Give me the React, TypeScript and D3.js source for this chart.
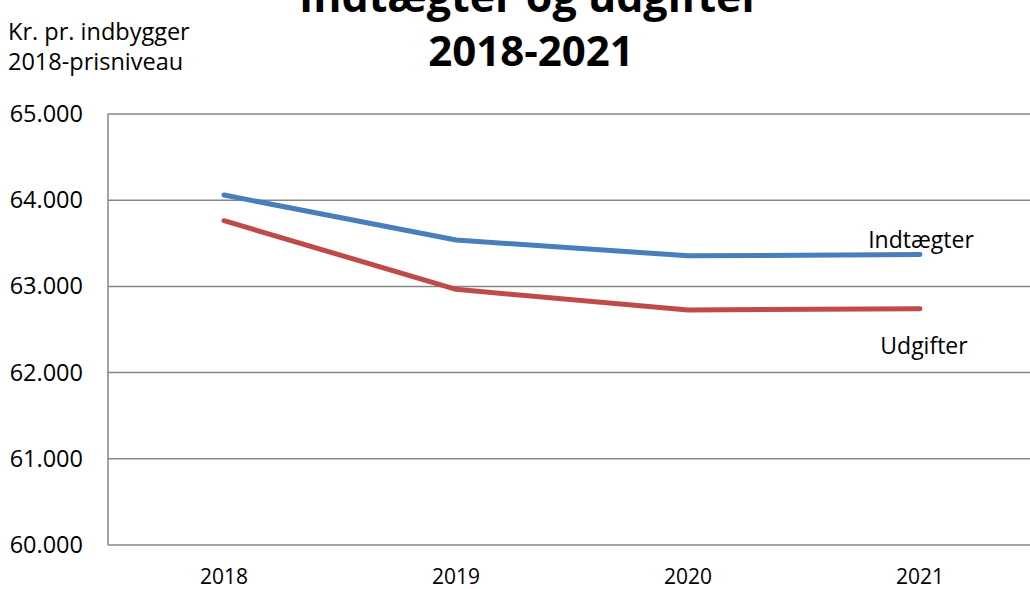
import React from "react";
import * as d3 from "d3";

const years = ["2018", "2019", "2020", "2021"];
const indtaegter = [64060, 63538, 63355, 63370];
const udgifter = [63762, 62966, 62726, 62741];
const yTicks = [60000, 61000, 62000, 63000, 64000, 65000];

const W = 1030;
const H = 589;
const FONT = "'Open Sans', sans-serif";

export default function App() {
  const left = 108, top = 114, bottom = 545, right = 1036;
  const x = d3.scaleBand<string>().domain(years).range([left, right]);
  const y = d3.scaleLinear().domain([60000, 65000]).range([bottom, top]);
  const fmt = (v: number) => d3.format(",.0f")(v).replace(/,/g, ".");
  const line = d3
    .line<number>()
    .x((_, i) => (x(years[i]) as number) + x.bandwidth() / 2)
    .y((d) => y(d));
  const series = [
    { name: "Indtægter", values: indtaegter, color: "#4A7EBB" },
    { name: "Udgifter", values: udgifter, color: "#BE4B48" },
  ];
  return (
    <svg width={W} height={H} style={{ position: "absolute", left: 0, top: 0 }} fontFamily={FONT}>
      <rect width={W} height={H} fill="#fff" />
      {yTicks.map((t) => (
        <g key={t}>
          <line x1={left} x2={right} y1={y(t)} y2={y(t)} stroke="#868686" strokeWidth={1.5} />
          <text x={83} y={y(t) + 8} textAnchor="end" fontSize={23.5} fill="#000">
            {fmt(t)}
          </text>
        </g>
      ))}
      <line x1={left} x2={left} y1={top} y2={bottom} stroke="#868686" strokeWidth={1.5} />
      {years.map((yr) => (
        <text key={yr} x={(x(yr) as number) + x.bandwidth() / 2} y={584} textAnchor="middle" fontSize={21}>
          {yr}
        </text>
      ))}
      {series.map((s) => (
        <path key={s.name} d={line(s.values) || ""} fill="none" stroke={s.color} strokeWidth={5} strokeLinecap="round" strokeLinejoin="round" />
      ))}
      <text x={921} y={248} textAnchor="middle" fontSize={23}>Indtægter</text>
      <text x={924} y={354} textAnchor="middle" fontSize={23}>Udgifter</text>
      <text x={8} y={40} fontSize={23.5}>Kr. pr. indbygger</text>
      <text x={8} y={70} fontSize={23.5}>2018-prisniveau</text>
      <text x={530} y={12} textAnchor="middle" fontSize={43} fontWeight="bold">Indtægter og udgifter</text>
      <text x={531} y={66} textAnchor="middle" fontSize={42} fontWeight="bold">2018-2021</text>
    </svg>
  );
}
